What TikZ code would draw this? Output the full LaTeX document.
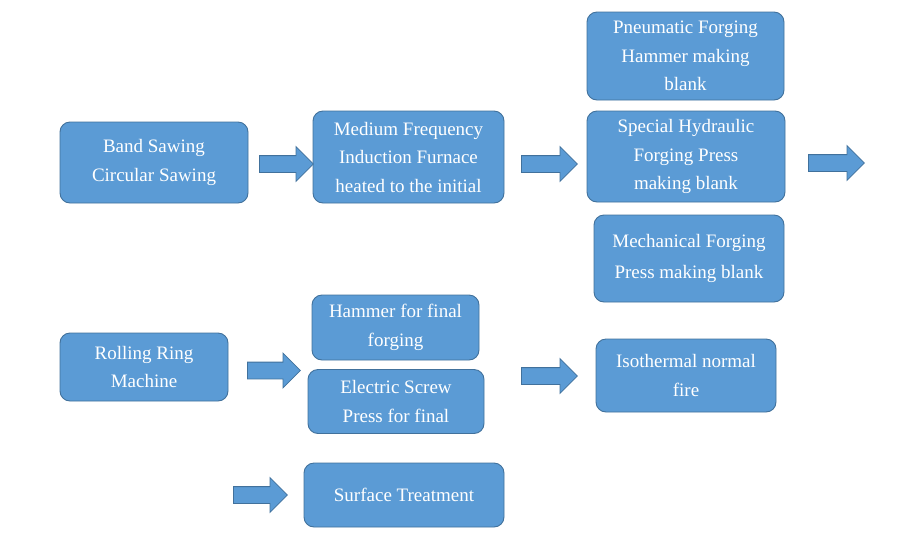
\documentclass[tikz,border=0pt]{standalone}
\usepackage{fontspec}
\setmainfont{Liberation Serif}
\newfontfamily\boxfont{Liberation Serif}
\usetikzlibrary{shapes.arrows}
\definecolor{boxfill}{RGB}{91,155,213}
\definecolor{boxline}{RGB}{65,113,156}
\tikzset{
  procbox/.style={draw=boxline, fill=boxfill, line width=0.9pt, rounded corners=10pt,
    text=white, align=center, inner sep=0pt,
    font=\boxfont\fontsize{19}{28.5}\selectfont},
  blockarrow/.style={single arrow, draw=boxline, fill=boxfill, line width=0.8pt,
    inner sep=8pt, minimum width=34pt, single arrow head extend=9pt,
    single arrow tip angle=90, anchor=tail}
}
\begin{document}
\begin{tikzpicture}[x=1pt,y=-1pt]
\useasboundingbox (0,0) rectangle (898,539);
% boxes
\node[procbox, minimum width=188pt, minimum height=81pt] (band) at (154,162.5) {Band Sawing\\Circular Sawing};
\node[procbox, minimum width=191pt, minimum height=92pt] (medium) at (408.5,157) {Medium Frequency\\Induction Furnace\\heated to the initial};
\node[procbox, minimum width=197pt, minimum height=88pt] (pneu) at (685.5,56) {Pneumatic Forging\\Hammer making\\blank};
\node[procbox, minimum width=198pt, minimum height=91pt] (hydr) at (686,156.5) {Special Hydraulic\\Forging Press\\making blank};
\node[procbox, minimum width=190pt, minimum height=87pt] (mech) at (689,258.5) {Mechanical Forging\\[3pt]Press making blank};
\node[procbox, minimum width=168pt, minimum height=68pt] (ring) at (144,367) {Rolling Ring\\Machine};
\node[procbox, minimum width=167pt, minimum height=65pt] (hammer) at (395.5,327.5) {Hammer for final\\forging};
\node[procbox, minimum width=176pt, minimum height=64pt] (screw) at (396,401.5) {Electric Screw\\Press for final};
\node[procbox, minimum width=180pt, minimum height=73pt] (iso) at (686,375.5) {Isothermal normal\\fire};
\node[procbox, minimum width=200pt, minimum height=64pt] (surf) at (404,495) {Surface Treatment};
% block arrows
\node[blockarrow, minimum height=54pt] (a1) at (259,164) {};
\node[blockarrow, minimum height=56pt] (a2) at (521,164) {};
\node[blockarrow, minimum height=56pt] (a3) at (808,163) {};
\node[blockarrow, minimum height=53pt] (a4) at (247,370.5) {};
\node[blockarrow, minimum height=56pt] (a5) at (521,376) {};
\node[blockarrow, minimum height=54pt] (a6) at (233,495) {};
\end{tikzpicture}
\end{document}
